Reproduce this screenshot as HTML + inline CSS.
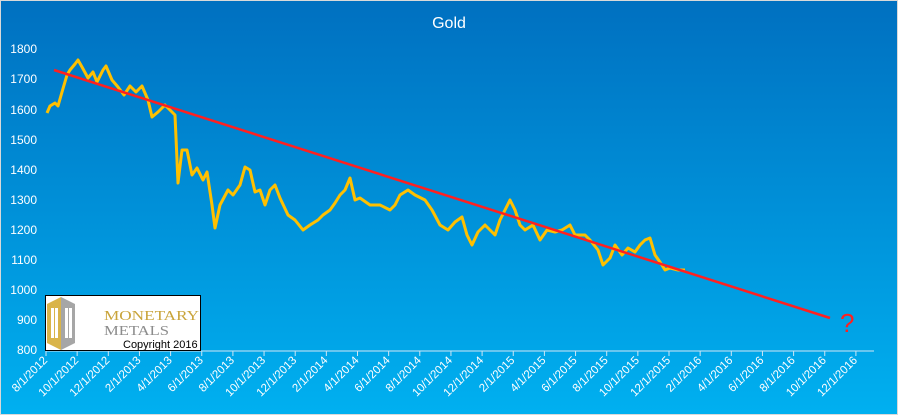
<!DOCTYPE html>
<html><head><meta charset="utf-8"><style>
html,body{margin:0;padding:0;}
body{width:898px;height:415px;overflow:hidden;font-family:"Liberation Sans",sans-serif;}
</style></head><body>
<svg width="898" height="415" xmlns="http://www.w3.org/2000/svg">
<defs><linearGradient id="bg" x1="0" y1="0" x2="0" y2="1"><stop offset="0" stop-color="#0070c0"/><stop offset="1" stop-color="#00b0f0"/></linearGradient></defs>
<rect x="0" y="0" width="898" height="415" fill="#d9d9d9"/>
<rect x="1" y="1" width="896" height="413" fill="url(#bg)"/>
<text x="449" y="28" fill="#fff" font-size="16" text-anchor="middle">Gold</text>
<g fill="#fff" font-size="12" text-anchor="end">
<text x="37" y="53">1800</text><text x="37" y="83">1700</text><text x="37" y="114">1600</text><text x="37" y="144">1500</text><text x="37" y="174">1400</text><text x="37" y="204">1300</text><text x="37" y="234">1200</text><text x="37" y="264">1100</text><text x="37" y="294">1000</text><text x="37" y="324">900</text><text x="37" y="354">800</text>
</g>
<line x1="46" y1="351" x2="874" y2="351" stroke="#cfe6f5" stroke-width="1"/>
<g stroke="#cfe6f5">
<path d="M46,351v5M77.15,351v5M108.3,351v5M139.45,351v5M170.6,351v5M201.75,351v5M232.9,351v5M264.05,351v5M295.2,351v5M326.35,351v5M357.5,351v5M388.65,351v5M419.8,351v5M450.95,351v5M482.1,351v5M513.25,351v5M544.4,351v5M575.55,351v5M606.7,351v5M637.85,351v5M669,351v5M700.15,351v5M731.3,351v5M762.45,351v5M793.6,351v5M824.75,351v5M855.9,351v5"/>
</g>
<g fill="#fff" font-size="11.5" text-anchor="end">
<text transform="translate(48,361) rotate(-45)">8/1/2012</text>
<text transform="translate(79.15,361) rotate(-45)">10/1/2012</text>
<text transform="translate(110.3,361) rotate(-45)">12/1/2012</text>
<text transform="translate(141.45,361) rotate(-45)">2/1/2013</text>
<text transform="translate(172.6,361) rotate(-45)">4/1/2013</text>
<text transform="translate(203.75,361) rotate(-45)">6/1/2013</text>
<text transform="translate(234.9,361) rotate(-45)">8/1/2013</text>
<text transform="translate(266.05,361) rotate(-45)">10/1/2013</text>
<text transform="translate(297.2,361) rotate(-45)">12/1/2013</text>
<text transform="translate(328.35,361) rotate(-45)">2/1/2014</text>
<text transform="translate(359.5,361) rotate(-45)">4/1/2014</text>
<text transform="translate(390.65,361) rotate(-45)">6/1/2014</text>
<text transform="translate(421.8,361) rotate(-45)">8/1/2014</text>
<text transform="translate(452.95,361) rotate(-45)">10/1/2014</text>
<text transform="translate(484.1,361) rotate(-45)">12/1/2014</text>
<text transform="translate(515.25,361) rotate(-45)">2/1/2015</text>
<text transform="translate(546.4,361) rotate(-45)">4/1/2015</text>
<text transform="translate(577.55,361) rotate(-45)">6/1/2015</text>
<text transform="translate(608.7,361) rotate(-45)">8/1/2015</text>
<text transform="translate(639.85,361) rotate(-45)">10/1/2015</text>
<text transform="translate(671,361) rotate(-45)">12/1/2015</text>
<text transform="translate(702.15,361) rotate(-45)">2/1/2016</text>
<text transform="translate(733.3,361) rotate(-45)">4/1/2016</text>
<text transform="translate(764.45,361) rotate(-45)">6/1/2016</text>
<text transform="translate(795.6,361) rotate(-45)">8/1/2016</text>
<text transform="translate(826.75,361) rotate(-45)">10/1/2016</text>
<text transform="translate(857.9,361) rotate(-45)">12/1/2016</text>
</g>
<polyline fill="none" stroke="#ffc000" stroke-width="3" stroke-linejoin="round" points="47,113 50,106 55,103 58,106 62,92 67,75 70,70 75,64 78,60 82,67 88,78 93,72 97,82 103,70 106,66 112,80 118,87 124,95 130,86 136,92 142,86 148,100 152,117 158,112 165,105 170,110 175,115 178,183 182,150 187,150 192,175 197,168 203,180 207,172 212,205 215,228 220,205 228,190 233,195 240,185 245,167 250,170 255,192 260,190 265,205 270,190 275,185 280,198 288,215 295,220 303,230 310,225 318,220 323,215 330,210 335,203 340,195 345,190 350,178 355,200 360,198 370,205 380,205 390,210 395,205 400,195 408,190 415,195 425,200 432,210 440,225 448,230 455,222 462,217 467,235 472,245 478,232 485,225 495,235 500,220 505,210 510,200 515,210 520,225 525,230 533,225 540,240 547,230 555,232 562,230 570,225 575,235 585,235 590,240 598,250 603,265 610,258 615,245 622,255 628,248 635,252 640,245 645,240 650,238 655,255 660,262 665,270 670,268 678,270 685,270"/>
<line x1="54" y1="70" x2="830" y2="318" stroke="#ff2020" stroke-width="2.5"/>
<text x="840" y="332" fill="#ff2020" font-size="26">?</text>
<rect x="45.5" y="295.5" width="155" height="55" fill="#fff" stroke="#000"/>
<polygon points="47,304 61,297 61,350 47,343" fill="#d9b44a"/>
<polygon points="61,297 75,304 75,343 61,350" fill="#a6a6a6"/>
<rect x="51" y="308" width="3" height="30" fill="#fff"/><rect x="55" y="308" width="3" height="30" fill="#fff"/>
<rect x="65" y="308" width="3" height="30" fill="#fff"/><rect x="69" y="308" width="3" height="30" fill="#fff"/>
<text x="104" y="320" fill="#c9a43a" font-size="14" font-family="Liberation Serif,serif" textLength="95" lengthAdjust="spacingAndGlyphs">MONETARY</text>
<text x="104" y="335" fill="#8c8c8c" font-size="14" font-family="Liberation Serif,serif" textLength="65" lengthAdjust="spacingAndGlyphs">METALS</text>
<text x="123" y="348" fill="#000" font-size="11">Copyright 2016</text>
</svg>
</body></html>
